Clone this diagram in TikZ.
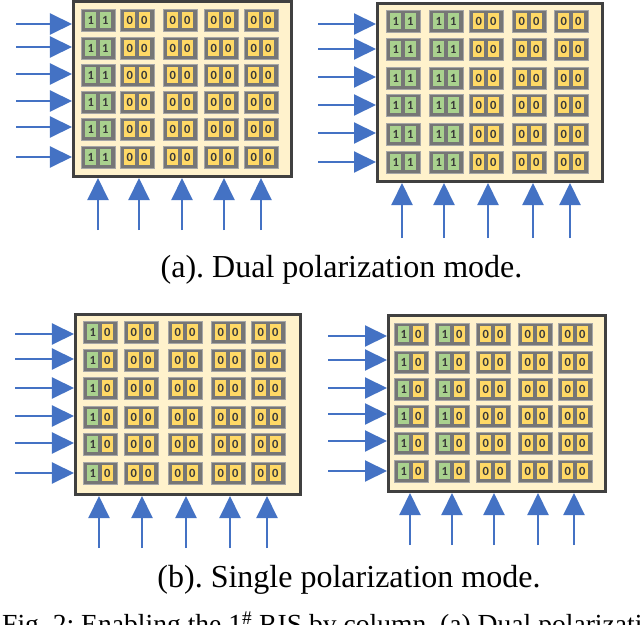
\documentclass[tikz,border=0pt]{standalone}
\usepackage{fontspec}
\setmainfont{Liberation Serif}
\newfontfamily\cellfont{Carlito}
\usetikzlibrary{arrows.meta}
\frenchspacing
\definecolor{arrblue}{HTML}{4472C4}
\definecolor{panelfill}{HTML}{FFF2CC}
\definecolor{panelline}{HTML}{404040}
\definecolor{cellgray}{HTML}{767676}
\definecolor{cellline}{HTML}{A6A6A6}
\definecolor{bitg}{HTML}{A9D18E}
\definecolor{bity}{HTML}{FFD966}
\definecolor{bittext}{HTML}{3A3A3A}
\tikzset{
  panel/.style={draw=panelline, fill=panelfill, line width=3bp, inner sep=0pt},
  bit/.style={rectangle, minimum width=10.7bp, minimum height=15.7bp, inner sep=0pt,
    font=\cellfont\bfseries\fontsize{12.5bp}{12.5bp}\selectfont, text=bittext},
  cellbox/.style={fill=cellgray, draw=cellline, line width=0.6bp},
  arr/.style={draw=arrblue, line width=2bp, -{Triangle[length=22bp,width=21bp]}, arrblue},
  captext/.style={anchor=base, inner sep=0pt, font=\fontsize{32bp}{38bp}\selectfont}
}
% #1 name, #2 col xs, #3 row ys, #4 enabled cols, #5 mode (1 dual, 0 single)
\newcommand{\rispanel}[5]{%
  \foreach \cx [count=\ci] in {#2} {
    \foreach \cy [count=\ri] in {#3} {
      \ifnum\ci>#4\relax
        \def\lc{bity}\def\lt{0}\def\rc{bity}\def\rt{0}%
      \else
        \ifnum#5=1\relax
          \def\lc{bitg}\def\lt{1}\def\rc{bitg}\def\rt{1}%
        \else
          \def\lc{bitg}\def\lt{1}\def\rc{bity}\def\rt{0}%
        \fi
      \fi
      \path[cellbox] (\cx,\cy) rectangle ++(34,22);
      \node[bit, fill=\lc] (#1-\ri-\ci-a) at (\cx+9.7,\cy+11) {\lt};
      \node[bit, fill=\rc] (#1-\ri-\ci-b) at (\cx+24.3,\cy+11) {\rt};
    }
  }%
}
\begin{document}
\begin{tikzpicture}[x=1bp, y=-1bp]
\useasboundingbox (0,0) rectangle (640,625);
\clip (0,0) rectangle (640,625);
\fill[white] (0,0) rectangle (640,625);

% ---------- panels ----------
\node[panel, minimum width=218bp, minimum height=175bp] (A) at (182.5,89) {};
\node[panel, minimum width=225bp, minimum height=178bp] (B) at (490,92.5) {};
\node[panel, minimum width=225bp, minimum height=180bp] (C) at (188,404.5) {};
\node[panel, minimum width=217bp, minimum height=176bp] (D) at (497,403.5) {};

% ---------- cells ----------
\rispanel{A}{81,120,163,204,244}{9,37,64,91,118,146}{1}{1}
\rispanel{B}{386,429,469,512,554}{10,38,67,94,123,151}{2}{1}
\rispanel{C}{83,124,168,211,251}{321,349,377,406,433,462}{1}{0}
\rispanel{D}{394,435,476,518,558}{323,351,378,405,432,460}{2}{0}

% ---------- arrows ----------
\foreach \y [count=\i] in {24,47,74,101,127,157} {
  \coordinate (Aw\i) at (16,\y);
  \draw[arr] (Aw\i) -- (Aw\i -| A.west);
}
\foreach \x [count=\i] in {98,139,182,224,261} {
  \coordinate (As\i) at (\x,230);
  \draw[arr] (As\i) -- (As\i |- A.south);
}
\foreach \y [count=\i] in {24,49,77,105,133,162} {
  \coordinate (Bw\i) at (318,\y);
  \draw[arr] (Bw\i) -- (Bw\i -| B.west);
}
\foreach \x [count=\i] in {402,444,488,533,570} {
  \coordinate (Bs\i) at (\x,238);
  \draw[arr] (Bs\i) -- (Bs\i |- B.south);
}
\foreach \y [count=\i] in {334,359,388,416,443,473} {
  \coordinate (Cw\i) at (15,\y);
  \draw[arr] (Cw\i) -- (Cw\i -| C.west);
}
\foreach \x [count=\i] in {99,142,186,230,267} {
  \coordinate (Cs\i) at (\x,548);
  \draw[arr] (Cs\i) -- (Cs\i |- C.south);
}
\foreach \y [count=\i] in {336,360,388,414,441,471} {
  \coordinate (Dw\i) at (328,\y);
  \draw[arr] (Dw\i) -- (Dw\i -| D.west);
}
\foreach \x [count=\i] in {410,452,494,538,574} {
  \coordinate (Ds\i) at (\x,545);
  \draw[arr] (Ds\i) -- (Ds\i |- D.south);
}

% ---------- captions ----------
\node[captext] (capa) at (341.5,277) {(a). Dual polarization mode.};
\node[captext] (capb) at (349,587) {(b). Single polarization mode.};
\node[anchor=base west, inner sep=0pt, font=\fontsize{27.6bp}{32bp}\selectfont] (figcap) at (2,633)
  {Fig. 2: Enabling the 1\textsuperscript{\#} RIS by column. (a) Dual polarization mode.};
\end{tikzpicture}
\end{document}
